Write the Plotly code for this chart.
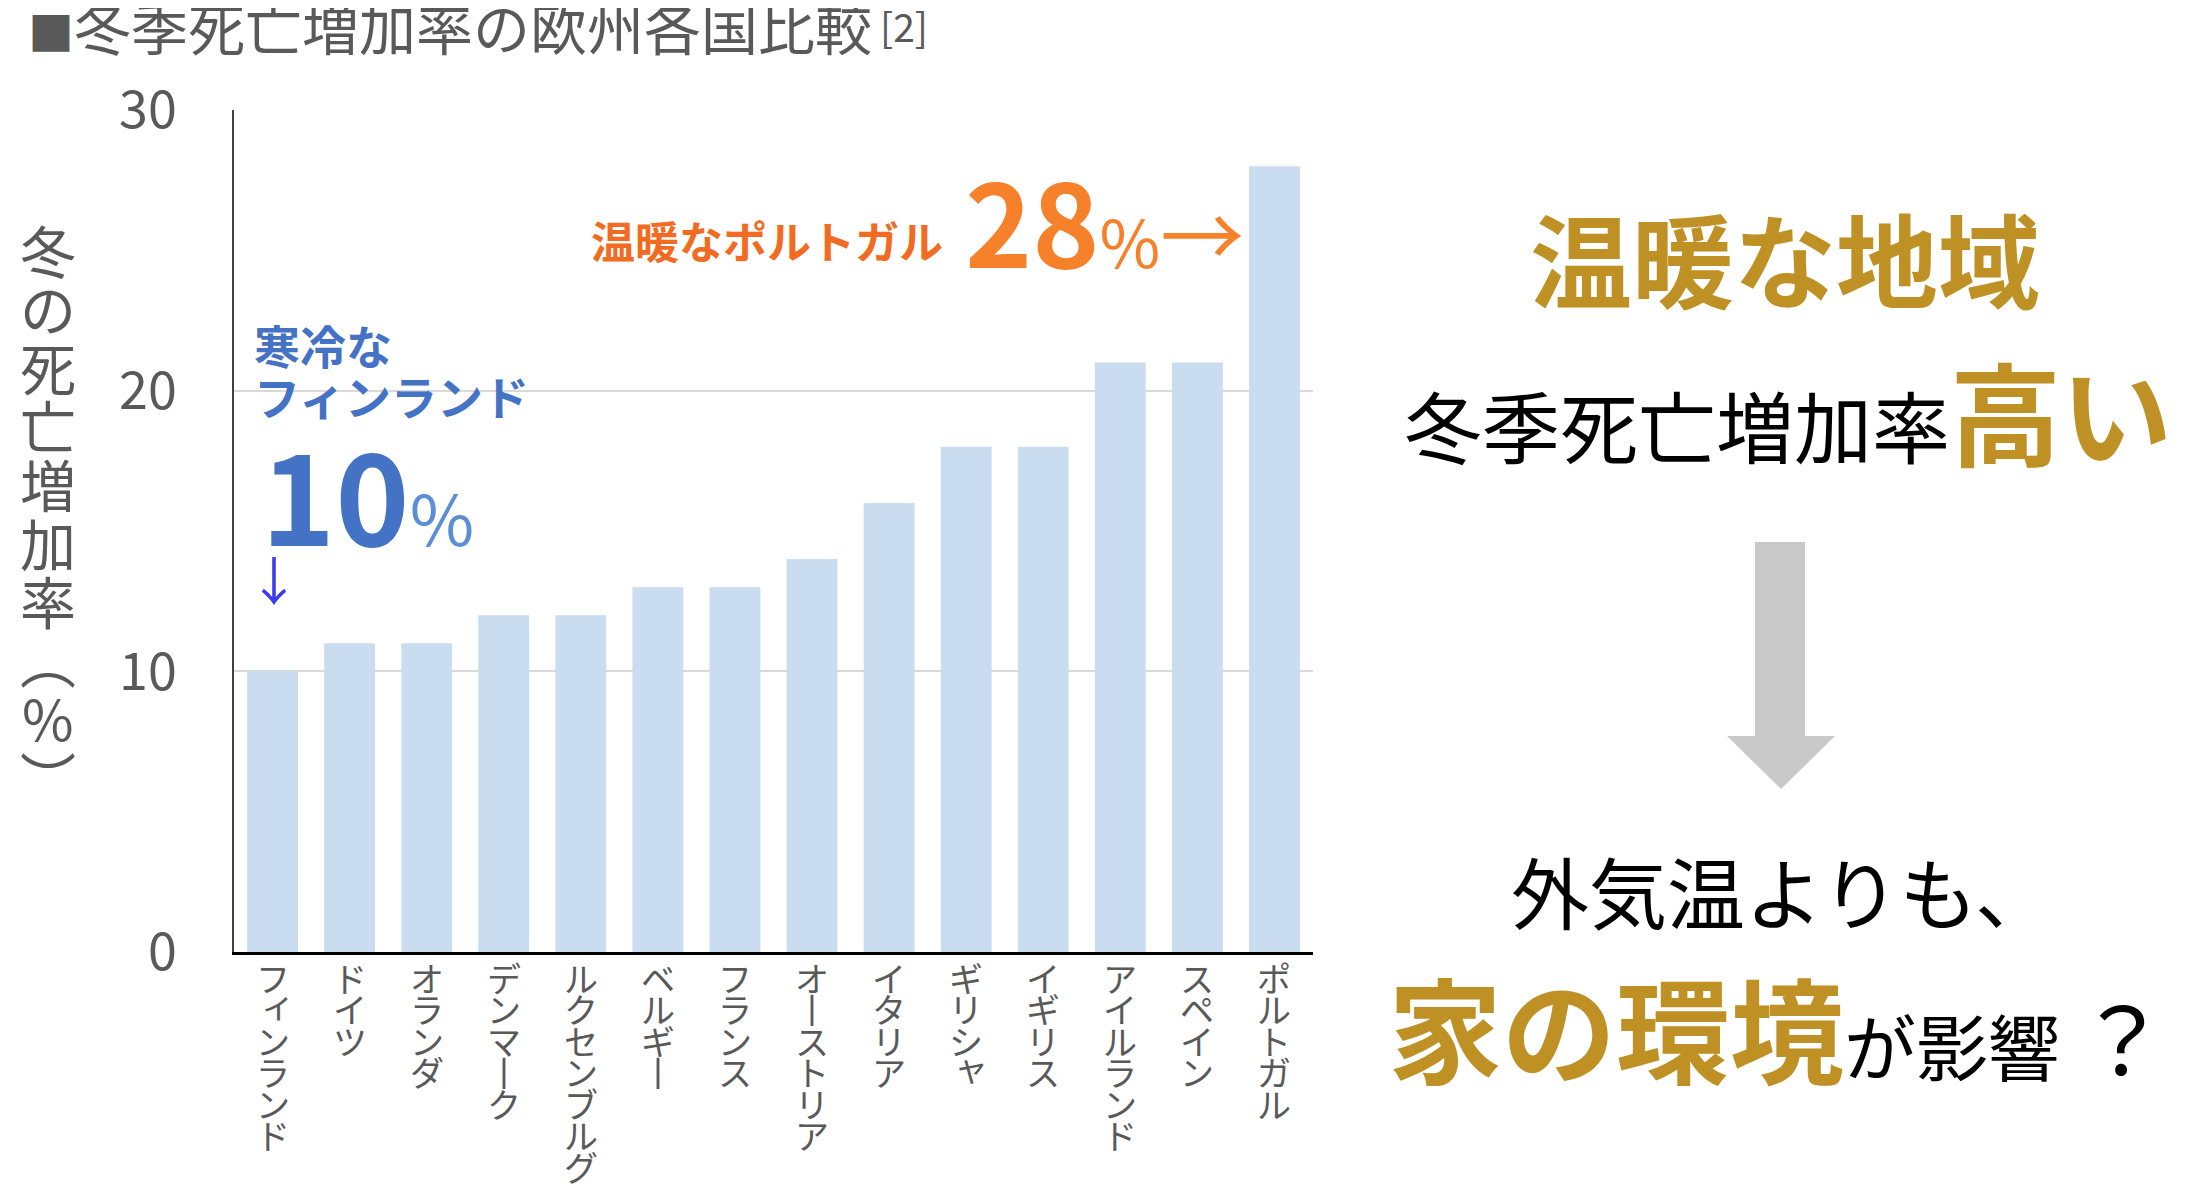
import plotly.graph_objects as go

# 冬季死亡増加率（%）— 欧州各国
countries = ["フィンランド", "ドイツ", "オランダ", "デンマーク", "ルクセンブルグ",
             "ベルギー", "フランス", "オーストリア", "イタリア", "ギリシャ",
             "イギリス", "アイルランド", "スペイン", "ポルトガル"]
rates = [10, 11, 11, 12, 12, 13, 13, 14, 16, 18, 18, 21, 21, 28]
y_ticks = [0, 10, 20, 30]
y_title = "冬の死亡増加率︵%︶"

FONT = "Noto Sans CJK JP"
GRAY = "#595959"
GOLD = "#BF9023"
BLUE = "#4472C4"
ORANGE = "#F26B22"

# the page body has an 8px margin, so the figure is a little smaller
OFF = 8
W, H = 2210 - 2 * OFF, 1198 - 2 * OFF
L, R, T, B = 234, 1313, 110, 952   # plot area, screen pixels
SMALL_KANA = "ァィゥェォッャュョ"


def px(x):
    return (x - L) / (R - L)


def py(y):
    return (B - y) / (B - T)


fig = go.Figure(go.Bar(
    x=countries, y=rates,
    marker=dict(color="#C9DCF0", line=dict(width=0)),
    hoverinfo="x+y",
))

fig.update_layout(
    width=W, height=H,
    margin=dict(l=L - OFF, r=W + OFF - R, t=T - OFF, b=H + OFF - B),
    plot_bgcolor="white", paper_bgcolor="white",
    bargap=0.34,
    showlegend=False,
    font=dict(family=FONT, color=GRAY),
)
fig.update_xaxes(
    showticklabels=False,
    showline=True, linecolor="black", linewidth=3,
    showgrid=False, ticks="", automargin=False,
)
fig.update_yaxes(
    range=[0, 30], tickvals=y_ticks,
    tickfont=dict(size=52, color=GRAY, family=FONT),
    ticklabelstandoff=45,
    showline=True, linecolor="#404040", linewidth=1.5,
    showgrid=True, gridcolor="#D9D9D9", gridwidth=2,
    zeroline=False, ticks="", automargin=False,
)

ann = []


def text(x, y, s, size, color, xanchor="left", yanchor="middle"):
    ann.append(dict(xref="paper", yref="paper", x=px(x), y=py(y), text=s,
                    showarrow=False, xanchor=xanchor, yanchor=yanchor,
                    font=dict(family=FONT, size=size, color=color)))


# country names, written vertically under each bar
for name in countries:
    for j, ch in enumerate(name):
        small = ch in SMALL_KANA
        ann.append(dict(xref="x", yref="paper", x=name, y=py(977 + 31.5 * j),
                        text="丨" if ch == "ー" else ch, showarrow=False,
                        xanchor="center", yanchor="middle",
                        xshift=5 if small else 0, yshift=5 if small else 0,
                        font=dict(family=FONT, size=34, color=GRAY)))

# y axis title, written vertically
for k, ch in enumerate(y_title):
    text(48, 248 + 58.6 * k, ch, 56, GRAY, xanchor="center")

# title
text(26, 25, "<span style='font-size:46px'>■</span>冬季死亡増加率の欧州各国比較", 57, GRAY)
text(878, 25, "[2]", 39, GRAY)

# cold Finland
text(252, 344, "<b>寒冷な</b>", 46, BLUE)
text(252, 395, "<b>フィンランド</b>", 46, BLUE)
text(259, 491, "<b>10</b><span style='font-size:70px;color:#5B8FD4'>%</span>", 126, BLUE)
text(274, 578, "↓", 52, "#3B3BEE", xanchor="center")

# warm Portugal
text(589, 240, "<b>温暖なポルトガル</b>", 44, ORANGE)
text(963, 218, "<b>28</b><span style='font-size:66px'>%</span>"
     "<span style='font-size:84px'>→</span>", 114, "#F7812A")

# right-hand panel
text(1785, 256, "<b>温暖な地域</b>", 102, GOLD, xanchor="center")
text(1788, 410, "<span style='font-size:78px;color:black'>冬季死亡増加率</span><b>高い</b>",
     111, GOLD, xanchor="center")
text(1782, 890, "外気温よりも、", 78, "black", xanchor="center")
text(1778, 1025, "<b>家の環境</b><span style='font-size:72px;color:black'>が影響 </span>"
     "<span style='font-size:92px;color:black'>？</span>",
     114, GOLD, xanchor="center")

fig.update_layout(annotations=ann)

# gray down arrow
arrow = ("M {a},{t} L {b},{t} L {b},{m} L {c},{m} L {tip},{e} L {d},{m} L {a},{m} Z"
         .format(a=px(1755), b=px(1805), c=px(1835), d=px(1727), tip=px(1781),
                 t=py(542), m=py(736), e=py(789)))
fig.add_shape(type="path", path=arrow, xref="paper", yref="paper",
              fillcolor="#C9C9C9", line=dict(width=0))

fig.write_html("out.html")
